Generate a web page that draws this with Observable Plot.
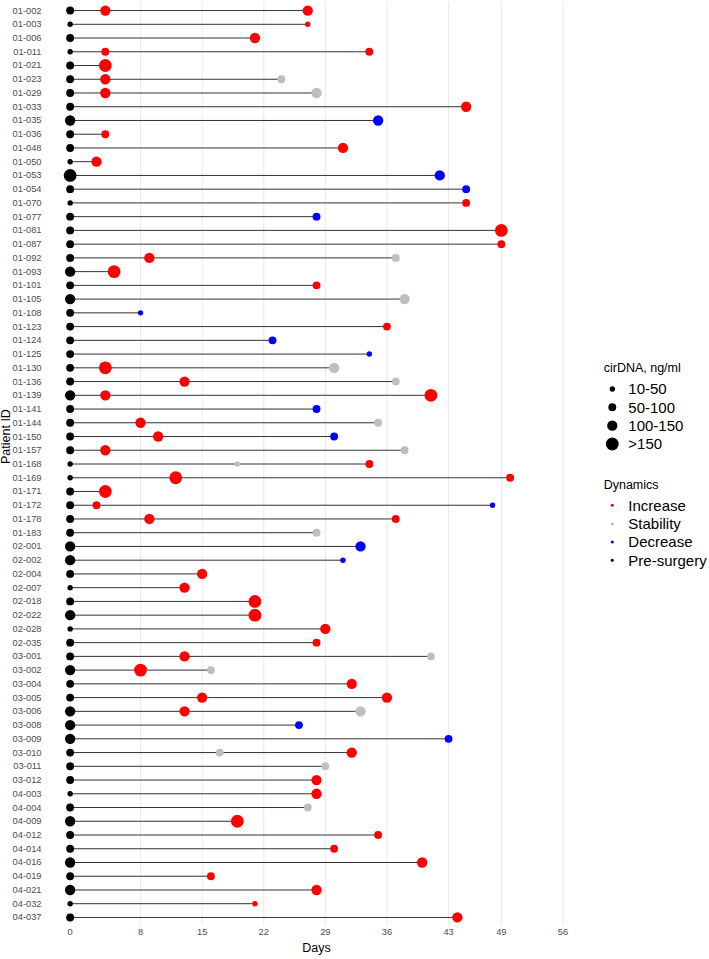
<!DOCTYPE html>
<html>
<head>
<meta charset="utf-8">
<script src="https://cdn.jsdelivr.net/npm/d3@7"></script>
<script src="https://cdn.jsdelivr.net/npm/@observablehq/plot@0.6"></script>
<style>
  html, body { margin: 0; padding: 0; background: #fff; }
  #wrap { position: relative; width: 709px; height: 959px; font-family: "Liberation Sans", Arial, Helvetica, sans-serif; }
  #legend { position: absolute; left: 0; top: 0; pointer-events: none; }
</style>
</head>
<body>
<div id="wrap"></div>
<script>
// ---- data ----
const patients = ["01-002","01-003","01-006","01-011","01-021","01-023","01-029","01-033","01-035","01-036",
  "01-048","01-050","01-053","01-054","01-070","01-077","01-081","01-087","01-092","01-093",
  "01-101","01-105","01-108","01-123","01-124","01-125","01-130","01-136","01-139","01-141",
  "01-144","01-150","01-157","01-168","01-169","01-171","01-172","01-178","01-183","02-001",
  "02-002","02-004","02-007","02-018","02-022","02-028","02-035","03-001","03-002","03-004",
  "03-005","03-006","03-008","03-009","03-010","03-011","03-012","04-003","04-004","04-009",
  "04-012","04-014","04-016","04-019","04-021","04-032","04-037"];

// cirDNA level at surgery (day 0): 1 = 10-50, 2 = 50-100, 3 = 100-150, 4 = >150
const preLevel = [2,1,2,1,2,2,2,2,3,2, 2,1,4,2,1,2,2,2,2,3, 2,3,2,2,2,2,2,2,3,2,
  2,2,2,1,1,2,2,2,2,3, 3,2,1,2,3,1,2,2,3,2, 2,3,3,3,2,2,2,1,2,3, 2,2,3,2,3,1,2];

// follow-up measurements: day, dynamics code, cirDNA level
const followDays = [[4,27],[27],[21],[4,34],[4],[4,24],[4,28],[45],[35],[4],
  [31],[3],[42],[45],[45],[28],[49],[49],[9,37],[5],
  [28],[38],[8],[36],[23],[34],[4,30],[13,37],[4,41],[28],
  [8,35],[10,30],[4,38],[19,34],[12,50],[4],[3,48],[9,37],[28],[33],
  [31],[15],[13],[21],[21],[29],[28],[13,41],[8,16],[32],
  [15,36],[13,33],[26],[43],[17,32],[29],[28],[28],[27],[19],
  [35],[30],[40],[16],[28],[21],[44]];
const followDyn = [["I","I"],["I"],["I"],["I","I"],["I"],["I","S"],["I","S"],["I"],["D"],["I"],
  ["I"],["I"],["D"],["D"],["I"],["D"],["I"],["I"],["I","S"],["I"],
  ["I"],["S"],["D"],["I"],["D"],["D"],["I","S"],["I","S"],["I","I"],["D"],
  ["I","S"],["I","D"],["I","S"],["S","I"],["I","I"],["I"],["I","D"],["I","I"],["S"],["D"],
  ["D"],["I"],["I"],["I"],["I"],["I"],["I"],["I","S"],["I","S"],["I"],
  ["I","I"],["I","S"],["D"],["D"],["S","I"],["S"],["I"],["I"],["S"],["I"],
  ["I"],["I"],["I"],["I"],["I"],["I"],["I"]];
const followLevel = [[3,3],[1],[3],[2,2],[4],[3,2],[3,3],[3],[3],[2],
  [3],[3],[3],[2],[2],[2],[4],[2],[3,2],[4],
  [2],[3],[1],[2],[2],[1],[4,3],[3,2],[3,4],[2],
  [3,2],[3,2],[3,2],[1,2],[4,2],[4],[2,1],[3,2],[2],[3],
  [1],[3],[3],[4],[4],[3],[2],[3,2],[4,2],[3],
  [3,3],[3,3],[2],[2],[2,3],[2],[3],[3],[2],[4],
  [2],[2],[3],[2],[3],[1],[3]];

const baselineDay = 0;
const xTicks = [0, 8, 15, 22, 29, 36, 43, 49, 56];
const sizeLabels = ["10-50", "50-100", "100-150", ">150"];
const dynCodes = {I: "Increase", S: "Stability", D: "Decrease"};
const dynLabels = ["Increase", "Stability", "Decrease", "Pre-surgery"];
const dynColors = ["#ff0000", "#bebebe", "#0000ff", "#000000"];

// ---- build tables ----
const lines = patients.map((p, i) => ({patient: p, start: baselineDay, end: d3.max(followDays[i])}));
const points = [];
patients.forEach((p, i) => {
  points.push({patient: p, day: baselineDay, dyn: "Pre-surgery", level: preLevel[i]});
  followDays[i].forEach((d, j) => {
    points.push({patient: p, day: d, dyn: dynCodes[followDyn[i][j]], level: followLevel[i][j]});
  });
});

const font = '"Liberation Sans", Arial, Helvetica, sans-serif';

const chart = Plot.plot({
  width: 709,
  height: 959,
  marginLeft: 45,
  marginRight: 121.9,
  marginTop: 1.8,
  marginBottom: 33.8,
  style: {fontFamily: font, background: "white", overflow: "visible"},
  x: {domain: [-2.8, 58.8]},
  y: {type: "point", domain: patients, padding: 0.6},
  color: {domain: dynLabels, range: dynColors},
  r: {type: "linear", domain: [1, 4], range: [2.7, 6.4]},
  marks: [
    Plot.ruleX(xTicks, {stroke: "#ebebeb", strokeWidth: 1.1}),
    Plot.ruleY(lines, {y: "patient", x1: "start", x2: "end", stroke: "#333", strokeWidth: 1}),
    Plot.dot(points, {x: "day", y: "patient", r: "level", fill: "dyn"}),
    Plot.axisX({ticks: xTicks, tickSize: 0, tickPadding: 3, fontSize: 9.3, color: "#4d4d4d", label: null}),
    Plot.axisY({tickSize: 0, tickPadding: 4, fontSize: 9.3, color: "#4d4d4d", label: null}),
    Plot.text(["Days"], {frameAnchor: "bottom", dy: 26, fontSize: 12.5, fill: "#000"}),
    Plot.text(["Patient ID"], {frameAnchor: "left", dx: -40, rotate: -90, fontSize: 12.5, fill: "#000"})
  ]
});

const wrap = document.getElementById("wrap");
wrap.appendChild(chart);

// ---- legend ----
const rScale = chart.scale("r");
const leg = d3.select(wrap).append("svg")
  .attr("id", "legend").attr("width", 709).attr("height", 959)
  .style("font-family", font);

const lx = 603.7, dotX = 612.3, textX = 628.3;
leg.append("text").attr("x", lx).attr("y", 367.7).attr("dy", "0.35em")
  .attr("font-size", 12.5).text("cirDNA, ng/ml");
const sizeY = [389, 407.3, 425.7, 444];
sizeLabels.forEach((s, k) => {
  leg.append("circle").attr("cx", dotX).attr("cy", sizeY[k]).attr("r", rScale.apply(k + 1)).attr("fill", "#000");
  leg.append("text").attr("x", textX).attr("y", sizeY[k]).attr("dy", "0.35em").attr("font-size", 15).text(s);
});
leg.append("text").attr("x", lx).attr("y", 484.3).attr("dy", "0.35em")
  .attr("font-size", 12.5).text("Dynamics");
const dynY = [505.3, 523.7, 542, 560.3];
const cScale = chart.scale("color");
dynLabels.forEach((s, k) => {
  leg.append("circle").attr("cx", dotX).attr("cy", dynY[k]).attr("r", 1.5).attr("fill", cScale.apply(s));
  leg.append("text").attr("x", textX).attr("y", dynY[k]).attr("dy", "0.35em").attr("font-size", 15).text(s);
});
</script>
</body>
</html>
